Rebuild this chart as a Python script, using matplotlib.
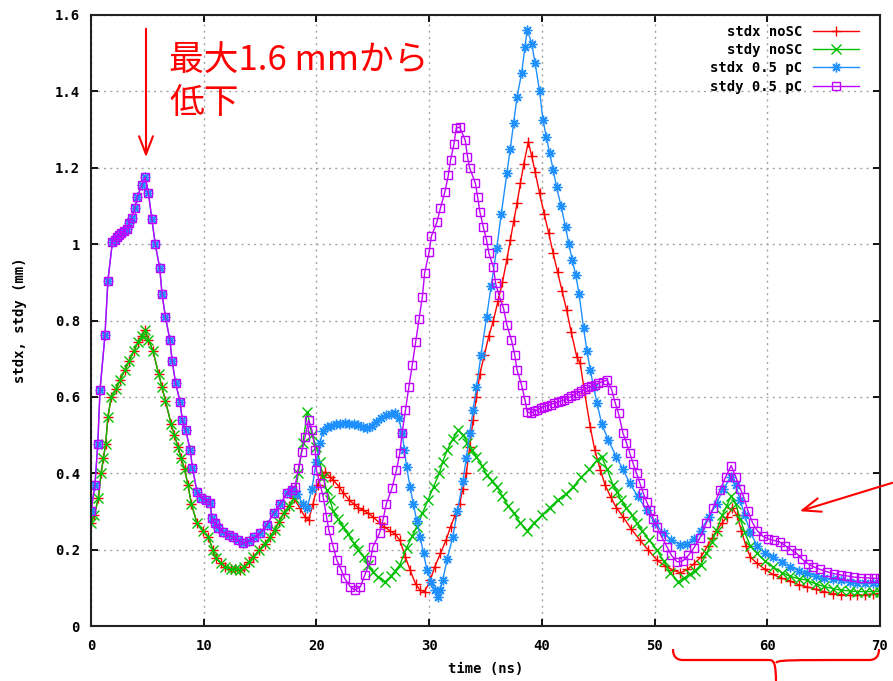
import matplotlib
matplotlib.use("Agg")
import matplotlib.pyplot as plt
from matplotlib.path import Path
from matplotlib.patches import PathPatch

# ---- data ----
# noSC: stdx and stdy coincide up to ~18 ns
t_early_nosc = [0, 0.3, 0.65, 0.9, 1.1, 1.3, 1.5, 1.8, 2.2, 2.6, 3.0, 3.4, 3.8, 4.2, 4.5, 4.8,
                5.1, 5.5, 6.0, 6.3, 6.6, 7.1, 7.4, 7.7, 8.0, 8.3, 8.6, 8.9, 9.4, 9.9, 10.4, 10.8,
                11.1, 11.5, 11.9, 12.4, 12.8, 13.2, 13.6, 14.0, 14.4, 14.9, 15.4, 15.9, 16.3,
                16.7, 17.1, 17.6, 18.0]
v_early_nosc = [0.27, 0.29, 0.335, 0.40, 0.44, 0.476, 0.548, 0.60, 0.62, 0.645, 0.67, 0.695, 0.72,
                0.745, 0.76, 0.775, 0.75, 0.72, 0.66, 0.625, 0.59, 0.53, 0.50, 0.47, 0.44, 0.41,
                0.37, 0.32, 0.27, 0.25, 0.234, 0.20, 0.178, 0.165, 0.155, 0.15, 0.148, 0.147,
                0.155, 0.168, 0.18, 0.198, 0.215, 0.233, 0.252, 0.273, 0.295, 0.315, 0.335]

t_stdx_nosc = [18.5, 19.0, 19.3, 19.7, 20.1, 20.5, 20.8, 21.2, 21.5, 22.0, 22.4, 22.9, 23.3, 23.7,
               24.1, 24.6, 25.0, 25.6, 26.0, 26.5, 27.0, 27.4, 27.9, 28.3, 28.8, 29.2, 29.6, 30.1,
               30.5, 31.0, 31.5, 31.9, 32.3, 32.7, 33.0, 33.3, 33.6, 33.9, 34.2, 34.5, 34.9, 35.3,
               35.7, 36.1, 36.5, 36.9, 37.2, 37.5, 37.8, 38.1, 38.4, 38.8, 39.1, 39.4, 39.8, 40.2,
               40.6, 41.0, 41.4, 41.8, 42.2, 42.6, 43.1, 43.4, 43.8, 44.3, 44.7, 45.2, 45.6, 46.1,
               46.6, 47.2, 47.9, 48.7, 49.4, 50.2, 50.9, 51.6, 52.3, 52.9, 53.5, 54.1, 54.7, 55.1,
               55.5, 56.0, 56.4, 56.9, 57.3, 57.7, 58.1, 58.5, 59.1, 59.8, 60.5, 61.2, 62.0, 62.8,
               63.5, 64.3, 65.0, 65.8, 66.5, 67.3, 68.0, 68.7, 69.4, 70.0]
v_stdx_nosc = [0.31, 0.285, 0.277, 0.32, 0.37, 0.395, 0.404, 0.39, 0.382, 0.365, 0.348, 0.33, 0.32,
               0.31, 0.304, 0.295, 0.286, 0.27, 0.26, 0.25, 0.24, 0.225, 0.18, 0.147, 0.11, 0.094,
               0.09, 0.12, 0.155, 0.19, 0.225, 0.26, 0.29, 0.32, 0.36, 0.40, 0.47, 0.54, 0.60,
               0.66, 0.71, 0.76, 0.80, 0.85, 0.90, 0.96, 1.01, 1.06, 1.107, 1.16, 1.21, 1.268,
               1.23, 1.19, 1.133, 1.08, 1.03, 0.976, 0.926, 0.877, 0.827, 0.77, 0.705, 0.688,
               0.61, 0.52, 0.46, 0.408, 0.37, 0.338, 0.31, 0.286, 0.255, 0.225, 0.20, 0.173,
               0.158, 0.147, 0.139, 0.148, 0.163, 0.18, 0.21, 0.23, 0.25, 0.27, 0.285, 0.31,
               0.29, 0.25, 0.21, 0.18, 0.164, 0.148, 0.135, 0.126, 0.118, 0.108, 0.103, 0.096,
               0.09, 0.085, 0.082, 0.08, 0.08, 0.082, 0.084, 0.085]

t_stdy_nosc = [18.4, 18.8, 19.2, 19.6, 20.0, 20.3, 20.6, 20.9, 21.2, 21.5, 21.9, 22.4, 22.8, 23.3,
               23.7, 24.2, 24.6, 25.0, 25.5, 26.1, 26.6, 27.0, 27.4, 28.0, 28.5, 28.9, 29.4, 29.9,
               30.4, 30.9, 31.2, 31.6, 32.1, 32.6, 33.0, 33.4, 33.8, 34.2, 34.7, 35.1, 35.6, 36.0,
               36.5, 37.0, 37.5, 38.1, 38.7, 39.3, 40.0, 40.7, 41.4, 42.1, 42.8, 43.5, 44.2, 44.9,
               45.3, 45.8, 46.3, 46.7, 47.0, 47.5, 48.0, 48.4, 48.9, 49.5, 50.2, 50.8, 51.4, 52.1,
               52.6, 53.1, 53.6, 54.1, 54.6, 55.1, 55.5, 56.0, 56.4, 56.8, 57.2, 57.6, 58.0, 58.5,
               59.1, 59.8, 60.5, 61.3, 62.0, 62.8, 63.5, 64.3, 65.0, 65.8, 66.5, 67.3, 68.0, 68.7,
               69.4, 70.0]
v_stdy_nosc = [0.40, 0.48, 0.561, 0.50, 0.47, 0.43, 0.39, 0.356, 0.33, 0.30, 0.28, 0.26, 0.24,
               0.217, 0.20, 0.18, 0.16, 0.142, 0.128, 0.116, 0.13, 0.145, 0.16, 0.205, 0.235,
               0.26, 0.295, 0.33, 0.365, 0.40, 0.43, 0.46, 0.49, 0.513, 0.50, 0.48, 0.46, 0.443,
               0.42, 0.395, 0.38, 0.365, 0.34, 0.315, 0.295, 0.27, 0.25, 0.27, 0.29, 0.31, 0.33,
               0.345, 0.365, 0.39, 0.41, 0.435, 0.443, 0.41, 0.37, 0.35, 0.33, 0.31, 0.29, 0.27,
               0.25, 0.225, 0.20, 0.17, 0.14, 0.116, 0.125, 0.135, 0.145, 0.16, 0.19, 0.22, 0.25,
               0.29, 0.315, 0.34, 0.32, 0.28, 0.245, 0.21, 0.19, 0.17, 0.155, 0.14, 0.13, 0.124,
               0.12, 0.11, 0.104, 0.098, 0.094, 0.092, 0.09, 0.09, 0.09, 0.09]

# 0.5 pC: stdx and stdy coincide up to ~18 ns
t_early_pc = [0, 0.35, 0.6, 0.8, 1.24, 1.5, 1.9, 2.1, 2.3, 2.5, 2.7, 2.9, 3.2, 3.4, 3.6, 3.9, 4.1,
              4.5, 4.8, 5.1, 5.4, 5.7, 6.1, 6.3, 6.6, 7.0, 7.2, 7.5, 7.9, 8.1, 8.4, 8.8, 9.0, 9.4,
              9.8, 10.2, 10.6, 10.7, 11.0, 11.3, 11.7, 12.2, 12.6, 13.0, 13.5, 14.0, 14.5, 15.0,
              15.6, 16.2, 16.8, 17.4, 17.8]
v_early_pc = [0.30, 0.37, 0.476, 0.618, 0.762, 0.904, 1.006, 1.012, 1.019, 1.024, 1.029, 1.034,
              1.04, 1.055, 1.068, 1.094, 1.124, 1.154, 1.176, 1.133, 1.065, 1.0, 0.937, 0.87,
              0.81, 0.749, 0.694, 0.637, 0.587, 0.539, 0.513, 0.461, 0.414, 0.352, 0.335, 0.33,
              0.322, 0.283, 0.27, 0.257, 0.245, 0.238, 0.232, 0.224, 0.217, 0.222, 0.232, 0.243,
              0.265, 0.295, 0.32, 0.348, 0.356]

t_stdx_pc = [18.3, 18.8, 19.2, 19.6, 20.0, 20.3, 20.6, 20.9, 21.3, 21.7, 22.1, 22.5, 22.9, 23.3,
             23.7, 24.1, 24.5, 24.9, 25.3, 25.7, 26.2, 26.6, 27.0, 27.3, 27.6, 27.8, 28.0, 28.3,
             28.6, 28.9, 29.2, 29.5, 29.8, 30.2, 30.5, 30.8, 31.0, 31.2, 31.6, 32.1, 32.5, 33.0,
             33.3, 33.6, 33.9, 34.2, 34.6, 35.1, 35.5, 36.0, 36.4, 36.9, 37.2, 37.5, 37.8, 38.2,
             38.5, 38.7, 39.1, 39.4, 39.8, 40.1, 40.4, 40.7, 41.0, 41.3, 41.7, 42.1, 42.4, 42.7,
             43.0, 43.3, 43.7, 44.0, 44.3, 44.6, 44.9, 45.3, 45.9, 46.6, 47.2, 47.8, 48.5, 49.3,
             50.0, 50.8, 51.5, 52.3, 52.9, 53.5, 54.1, 54.8, 55.5, 56.1, 56.8, 57.2, 57.6, 58.0,
             58.5, 59.1, 59.8, 60.5, 61.3, 62.0, 62.8, 63.5, 64.3, 65.0, 65.8, 66.5, 67.3, 68.0,
             68.7, 69.4, 70.0]
v_stdx_pc = [0.345, 0.32, 0.31, 0.36, 0.43, 0.48, 0.51, 0.52, 0.525, 0.528, 0.53, 0.532, 0.53,
             0.53, 0.526, 0.52, 0.518, 0.525, 0.535, 0.545, 0.553, 0.556, 0.557, 0.545, 0.505,
             0.46, 0.417, 0.365, 0.32, 0.275, 0.234, 0.19, 0.147, 0.115, 0.095, 0.075, 0.095,
             0.12, 0.175, 0.234, 0.30, 0.38, 0.44, 0.505, 0.565, 0.626, 0.71, 0.81, 0.89, 0.99,
             1.08, 1.185, 1.25, 1.317, 1.386, 1.447, 1.517, 1.562, 1.525, 1.474, 1.40, 1.325,
             1.28, 1.238, 1.195, 1.15, 1.10, 1.045, 1.0, 0.958, 0.92, 0.87, 0.78, 0.72, 0.67,
             0.625, 0.583, 0.53, 0.487, 0.443, 0.41, 0.374, 0.34, 0.304, 0.27, 0.243, 0.225,
             0.212, 0.215, 0.228, 0.25, 0.285, 0.32, 0.36, 0.39, 0.37, 0.33, 0.29, 0.245, 0.21,
             0.192, 0.18, 0.168, 0.155, 0.145, 0.139, 0.132, 0.126, 0.122, 0.12, 0.116, 0.113,
             0.112, 0.112, 0.112]

t_stdy_pc = [18.1, 18.4, 18.7, 19.0, 19.3, 19.6, 19.9, 20.0, 20.3, 20.6, 20.9, 21.1, 21.5, 21.8,
             22.2, 22.5, 23.0, 23.4, 23.9, 24.3, 24.8, 25.0, 25.6, 25.9, 26.2, 26.7, 27.1, 27.4,
             27.6, 27.9, 28.2, 28.5, 28.8, 29.1, 29.4, 29.6, 30.0, 30.2, 30.7, 31.0, 31.4, 31.7,
             31.9, 32.2, 32.4, 32.7, 33.2, 33.4, 33.6, 34.1, 34.3, 34.5, 34.8, 35.1, 35.3, 35.7,
             35.9, 36.2, 36.6, 36.9, 37.3, 37.6, 37.8, 38.2, 38.5, 38.7, 39.0, 39.3, 39.6, 39.9,
             40.2, 40.5, 40.8, 41.1, 41.4, 41.7, 42.0, 42.3, 42.6, 42.9, 43.2, 43.5, 43.8, 44.1,
             44.4, 44.7, 45.0, 45.4, 45.8, 46.2, 46.5, 46.8, 47.2, 47.5, 47.8, 48.1, 48.4, 48.7,
             49.0, 49.3, 49.6, 49.9, 50.2, 50.6, 51.1, 51.5, 52.0, 52.5, 53.0, 53.5, 54.0, 54.6,
             55.2, 55.8, 56.3, 56.8, 57.2, 57.6, 57.9, 58.3, 58.7, 59.1, 59.6, 60.1, 60.6, 61.1,
             61.6, 62.1, 62.6, 63.1, 63.6, 64.1, 64.7, 65.3, 65.9, 66.5, 67.1, 67.7, 68.3, 68.9,
             69.5, 70.0]
v_stdy_pc = [0.365, 0.413, 0.456, 0.496, 0.539, 0.513, 0.461, 0.408, 0.374, 0.338, 0.286, 0.251,
             0.207, 0.173, 0.147, 0.125, 0.103, 0.094, 0.103, 0.134, 0.173, 0.207, 0.243, 0.277,
             0.32, 0.361, 0.408, 0.453, 0.505, 0.565, 0.626, 0.683, 0.744, 0.803, 0.862, 0.924,
             0.98, 1.021, 1.058, 1.094, 1.137, 1.18, 1.22, 1.262, 1.303, 1.307, 1.272, 1.229,
             1.199, 1.16, 1.124, 1.085, 1.045, 1.01, 0.976, 0.94, 0.897, 0.866, 0.832, 0.788,
             0.749, 0.709, 0.67, 0.631, 0.592, 0.561, 0.557, 0.562, 0.566, 0.57, 0.574, 0.577,
             0.58, 0.583, 0.586, 0.589, 0.592, 0.597, 0.601, 0.606, 0.611, 0.615, 0.62, 0.625,
             0.628, 0.632, 0.636, 0.64, 0.644, 0.618, 0.585, 0.557, 0.505, 0.48, 0.453, 0.425,
             0.40, 0.374, 0.348, 0.325, 0.304, 0.28, 0.26, 0.235, 0.207, 0.185, 0.168, 0.17,
             0.185, 0.205, 0.23, 0.27, 0.31, 0.356, 0.39, 0.42, 0.39, 0.36, 0.338, 0.30, 0.27,
             0.25, 0.235, 0.228, 0.224, 0.22, 0.21, 0.20, 0.19, 0.175, 0.163, 0.155, 0.148,
             0.142, 0.137, 0.134, 0.131, 0.128, 0.127, 0.126, 0.125, 0.125]

x_ticks = [0, 10, 20, 30, 40, 50, 60, 70]
y_ticks = [0, 0.2, 0.4, 0.6, 0.8, 1.0, 1.2, 1.4, 1.6]

series = [
    ("stdx noSC", t_early_nosc + t_stdx_nosc, v_early_nosc + v_stdx_nosc, "#ff0000", "+"),
    ("stdy noSC", t_early_nosc + t_stdy_nosc, v_early_nosc + v_stdy_nosc, "#00c000", "x"),
    ("stdx 0.5 pC", t_early_pc + t_stdx_pc, v_early_pc + v_stdx_pc, "#1e8fff", (8, 2, 0)),
    ("stdy 0.5 pC", t_early_pc + t_stdy_pc, v_early_pc + v_stdy_pc, "#c000ff", "s"),
]

# ---- figure ----
W, H = 893, 681
plt.rcParams["font.family"] = ["DejaVu Sans Mono"]
plt.rcParams["font.weight"] = "bold"
fig = plt.figure(figsize=(W / 100, H / 100), dpi=100)
ax = fig.add_axes([91 / W, 55 / H, 789 / W, 611 / H])

for name, t, v, col, mk in series:
    if mk == "s":
        ax.plot(t, v, color=col, lw=1, marker=mk, ms=6, mfc="none", mec=col, mew=1, label=name)
    else:
        ax.plot(t, v, color=col, lw=1, marker=mk, ms=7, mew=1, label=name)

ax.set_xlim(0, 70)
ax.set_ylim(0, 1.6)
ax.set_xticks(x_ticks)
ax.set_yticks(y_ticks)
ax.set_xticklabels([f"{v:g}" for v in x_ticks])
ax.set_yticklabels([f"{v:g}" for v in y_ticks])
ax.tick_params(direction="in", length=5, width=1.3, top=True, right=True, labelsize=10)
ax.tick_params(axis="x", pad=9)
ax.tick_params(axis="y", pad=8)
for s in ax.spines.values():
    s.set_linewidth(1.5)
    s.set_color("#222222")
ax.grid(True, color="#a5a5a5", linestyle=(0, (1.5, 3)), lw=1)
ax.set_axisbelow(True)

ax.set_xlabel("time (ns)", fontsize=10, fontweight="bold", labelpad=7)
ax.set_ylabel("stdx, stdy (mm)", fontsize=10, fontweight="bold", labelpad=20)

ax.legend(loc="upper right", bbox_to_anchor=(859 / W, 1 - 25 / H), bbox_transform=fig.transFigure,
          frameon=False, markerfirst=False, numpoints=1, handlelength=3.3, handletextpad=0.8,
          labelspacing=0.3, borderpad=0, borderaxespad=0, prop={"size": 10, "weight": "bold"})

# ---- red annotations ----
red = "#ff0000"
jp = ["Noto Sans CJK JP", "DejaVu Sans"]
fig.text(169 / W, 1 - 61 / H, "最大1.6 mmから", color=red, fontsize=25, family=jp,
         fontweight="normal", va="center", ha="left")
fig.text(169 / W, 1 - 104 / H, "低下", color=red, fontsize=25, family=jp,
         fontweight="normal", va="center", ha="left")

ax.annotate("", xy=(146 / W, 1 - 160 / H), xytext=(146 / W, 1 - 26 / H),
            xycoords="figure fraction", textcoords="figure fraction",
            arrowprops=dict(arrowstyle="->,head_length=1.3,head_width=0.5", color=red, lw=1.5))
ax.annotate("", xy=(797 / W, 1 - 512 / H), xytext=(895 / W, 1 - 482 / H),
            xycoords="figure fraction", textcoords="figure fraction",
            arrowprops=dict(arrowstyle="->,head_length=1.3,head_width=0.5", color=red, lw=1.5))

# curly brace under 50-70 ns
pts = [(673, 649), (673, 656), (676, 660), (683, 660), (769, 660), (774, 660), (776, 663), (776, 684),
       (776, 663), (778, 660), (783, 660), (869, 660), (876, 660), (879, 656), (879, 649)]
codes = [Path.MOVETO, Path.CURVE4, Path.CURVE4, Path.CURVE4, Path.LINETO, Path.CURVE4, Path.CURVE4,
         Path.CURVE4, Path.MOVETO, Path.CURVE4, Path.CURVE4, Path.LINETO, Path.CURVE4, Path.CURVE4,
         Path.CURVE4]
brace = Path([(x / W, 1 - y / H) for x, y in pts], codes)
fig.add_artist(PathPatch(brace, transform=fig.transFigure, fill=False, edgecolor=red, lw=1.6))

fig.savefig("out.png", dpi=100)
